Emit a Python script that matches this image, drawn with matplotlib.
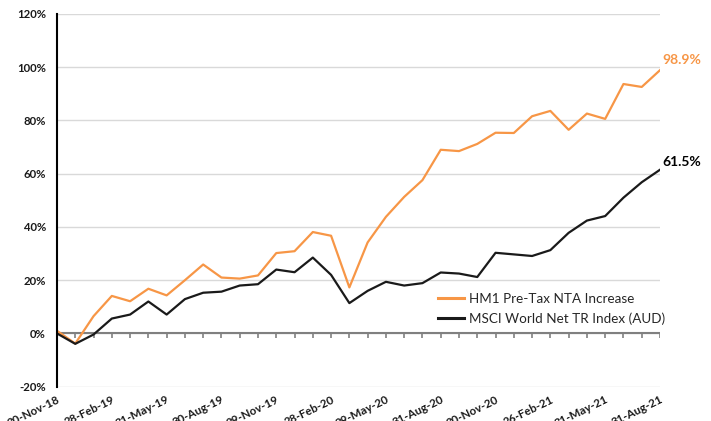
import matplotlib
matplotlib.use("Agg")
import matplotlib.pyplot as plt
from matplotlib.ticker import FuncFormatter, MultipleLocator

# ---- data ----
dates = ['30-Nov-18', '28-Feb-19', '31-May-19', '30-Aug-19', '29-Nov-19', '28-Feb-20',
         '29-May-20', '31-Aug-20', '30-Nov-20', '26-Feb-21', '31-May-21', '31-Aug-21']
label_step = 3
hm1 = [1.0, -3.8, 6.5, 14.1, 12.1, 16.8, 14.3, 20.0, 25.9, 21.0, 20.6, 21.8, 30.2, 30.9,
       38.1, 36.7, 17.3, 34.2, 43.8, 51.3, 57.6, 69.0, 68.5, 71.2, 75.4, 75.3, 81.6, 83.6,
       76.5, 82.6, 80.6, 93.7, 92.6, 98.9]
msci = [0.0, -3.9, -0.4, 5.6, 7.1, 12.0, 7.1, 12.9, 15.3, 15.7, 18.0, 18.5, 24.0, 23.0,
        28.5, 22.0, 11.4, 16.0, 19.4, 18.0, 18.9, 22.9, 22.5, 21.2, 30.3, 29.7, 29.1, 31.3,
        37.8, 42.4, 44.1, 51.0, 56.8, 61.5]
series_names = ['HM1 Pre-Tax NTA Increase', 'MSCI World Net TR Index (AUD)']

ORANGE = '#F79646'
BLACK = '#1a1a1a'

plt.rcParams['font.family'] = ['Lato', 'DejaVu Sans']

fig = plt.figure(figsize=(7.11, 4.21), dpi=100)
ax = fig.add_axes([57 / 711, 1 - 386.7 / 421, (660 - 57) / 711, (386.7 - 14) / 421])

x = list(range(len(hm1)))
ax.plot(x, hm1, color=ORANGE, lw=1.6, label=series_names[0], zorder=3)
ax.plot(x, msci, color=BLACK, lw=1.6, label=series_names[1], zorder=3)

ax.set_xlim(0, len(hm1) - 1)
ax.set_ylim(-20, 120)
ax.yaxis.set_major_locator(MultipleLocator(20))
ax.yaxis.set_major_formatter(FuncFormatter(lambda v, p: f'{v:.0f}%'))
ax.grid(axis='y', color='#d9d9d9', lw=1)
ax.set_axisbelow(True)

for s in ['top', 'right', 'bottom']:
    ax.spines[s].set_visible(False)
ax.spines['left'].set_color('black')
ax.spines['left'].set_linewidth(1.5)
ax.spines['left'].set_zorder(4)

# zero axis line with tick marks
ax.axhline(0, color='#808080', lw=1.5, zorder=2)
ax.vlines(x, -1.6, 0, color='#808080', lw=1.2, zorder=2)

ax.set_xticks(x[::label_step])
ax.set_xticklabels(dates, rotation=26, ha='right', rotation_mode='anchor',
                   fontsize=8.3, fontweight='bold', color='#1a1a1a')
ax.tick_params(axis='x', length=0, pad=5)
ax.tick_params(axis='y', length=0, pad=8, labelsize=8.2)
for t in ax.get_yticklabels():
    t.set_fontweight('bold')
    t.set_color('#1a1a1a')

# end labels
ax.annotate(f'{hm1[-1]:.1f}%', xy=(x[-1], hm1[-1]), xytext=(2, 3), textcoords='offset points',
            color=ORANGE, fontsize=10, fontweight='bold', ha='left', va='bottom',
            annotation_clip=False)
ax.annotate(f'{msci[-1]:.1f}%', xy=(x[-1], msci[-1]), xytext=(2, 1.5), textcoords='offset points',
            color='black', fontsize=10, fontweight='bold', ha='left', va='bottom',
            annotation_clip=False)

leg = fig.legend(loc='upper left', bbox_to_anchor=(438 / 711, 1 - 293 / 421),
                 frameon=False, fontsize=9.7, handlelength=1.9, handletextpad=0.4,
                 labelspacing=0.55, borderpad=0, borderaxespad=0)
for line in leg.get_lines():
    line.set_linewidth(2.2)
for t in leg.get_texts():
    t.set_color('#262626')

fig.savefig('out.png', dpi=100)
